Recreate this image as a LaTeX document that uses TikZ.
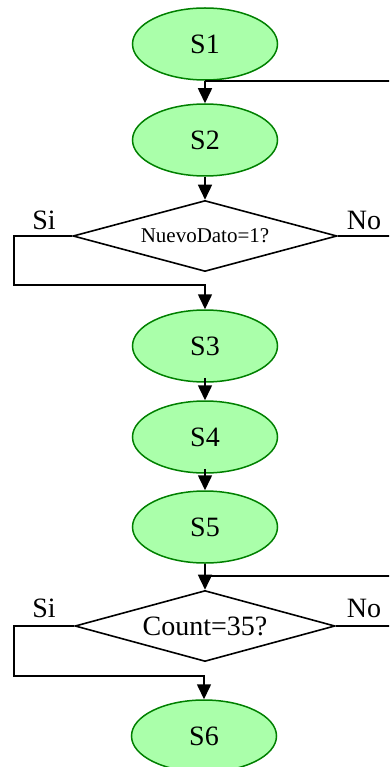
\documentclass[tikz,border=0pt]{standalone}
\usepackage{fontspec}
\setmainfont{Liberation Serif}
\usetikzlibrary{shapes.geometric,arrows.meta}
\definecolor{stateline}{RGB}{0,128,0}
\definecolor{statefill}{RGB}{170,255,170}
\begin{document}
\begin{tikzpicture}[x=1pt,y=-1pt,
  state/.style={ellipse,draw=stateline,fill=statefill,line width=1.5pt,
    minimum width=145pt,minimum height=72pt,inner sep=0pt,
    font=\fontsize{28}{28}\selectfont},
  decision/.style={diamond,draw=black,line width=1.6pt,shape aspect=3.7,
    minimum width=264pt,minimum height=71pt,inner sep=0pt},
  lbl/.style={inner sep=0pt,font=\fontsize{28}{28}\selectfont},
  conn/.style={draw=black,line width=1.6pt},
  arr/.style={conn,-{Triangle[width=14pt,length=15pt]}}]
\useasboundingbox (0,0) rectangle (389,767);
\clip (0,0) rectangle (389,767);
% nodes
\node[state] (s1) at (205,44) {S1};
\node[state] (s2) at (205,140) {S2};
\node[decision,font=\fontsize{21}{21}\selectfont] (d1) at (205,236) {NuevoDato=1?};
\node[state] (s3) at (205,346) {S3};
\node[state] (s4) at (205,437) {S4};
\node[state] (s5) at (205,527) {S5};
\node[decision,minimum width=260pt,font=\fontsize{28}{28}\selectfont] (d2) at (205,626) {Count=35?};
\node[state] (s6) at (204,736) {S6};
% labels
\node[lbl] (si1) at (44,220) {Si};
\node[lbl] (no1) at (364,220) {No};
\node[lbl] (si2) at (44,608) {Si};
\node[lbl] (no2) at (364,608) {No};
% junction coordinates
\coordinate (j1) at (205,81);
\coordinate (r1) at (400,236);
\coordinate (c1) at (14,285);
\coordinate (j2) at (205,576);
\coordinate (r2) at (400,626);
\coordinate (c2) at (14,676);
% connectors
\draw[arr] (s1) -- (s2);
\draw[arr] (s2) -- (d1);
\draw[conn] (d1.east) -- (r1) |- (j1);
\draw[arr] (d1.west) -| (c1) -| (s3);
\draw[arr,shorten <=-5pt] (s3) -- (s4);
\draw[arr,shorten <=-5pt] (s4) -- (s5);
\draw[arr] (s5) -- (d2);
\draw[conn] (d2.east) -- (r2) |- (j2);
\draw[arr] (d2.west) -| (c2) -| (s6);
\end{tikzpicture}
\end{document}
